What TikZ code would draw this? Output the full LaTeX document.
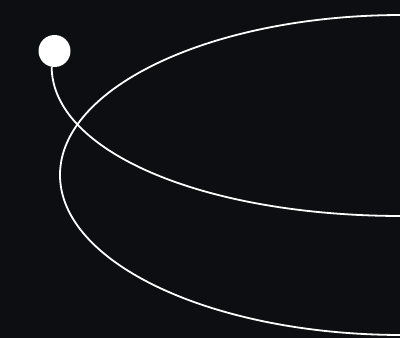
\documentclass[tikz,border=0pt]{standalone}
\definecolor{bg}{RGB}{12,14,17}
\begin{document}
\begin{tikzpicture}[x=1pt,y=1pt,
  wire/.style={draw=white,line width=1.8pt},
  dotnode/.style={circle,fill=white,minimum size=32pt,inner sep=0pt}]
\fill[bg] (0,0) rectangle (400,338);
\useasboundingbox (0,0) rectangle (400,338);
\clip (0,0) rectangle (400,338);
\node[dotnode] (dot) at (54.5,287) {};
\coordinate (endA) at (402,122);
\coordinate (topB) at (402,323);
\draw[wire] (dot.260) .. controls (52,188) and (200,122) .. (endA);
\draw[wire] (topB) arc[start angle=90,end angle=270,x radius=342,y radius=160];
\end{tikzpicture}
\end{document}
